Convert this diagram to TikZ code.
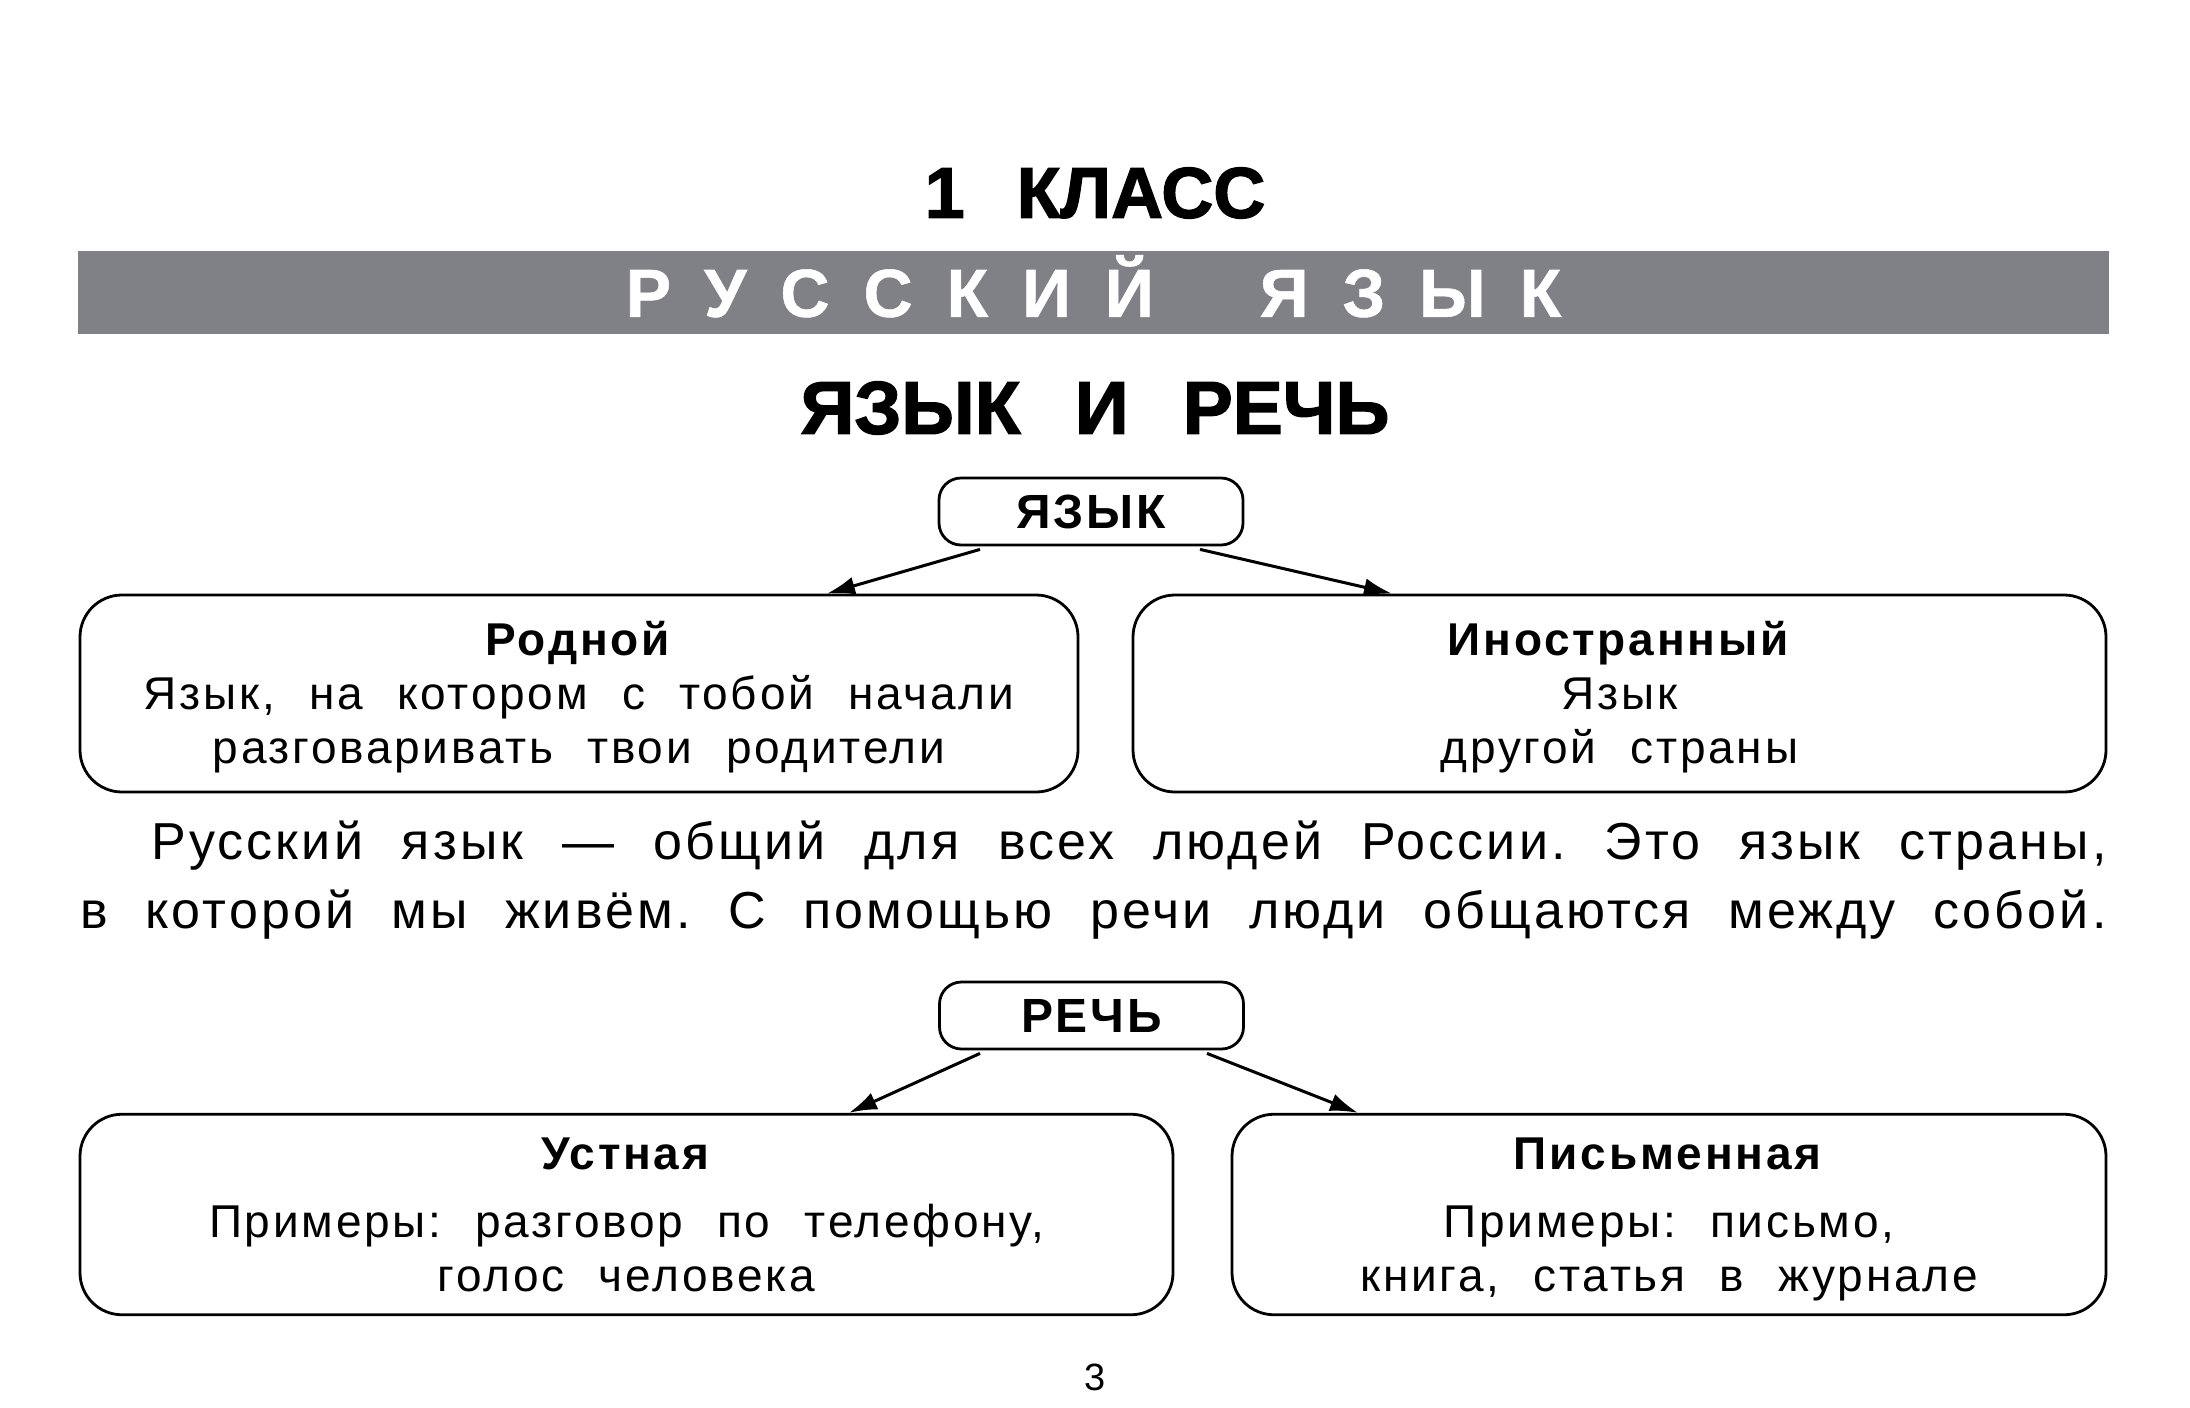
\documentclass[tikz,border=0pt]{standalone}
\usepackage{fontspec}
\setmainfont{Liberation Sans}[WordSpace=2.2, LetterSpace=6]
\newfontfamily\titlefont{Liberation Sans}[WordSpace=2.6, BoldFeatures={FakeBold=1.8}]
\newfontfamily\spacedfont{Liberation Sans}[WordSpace=2, LetterSpace=50, BoldFeatures={FakeBold=0.8}]
\usetikzlibrary{arrows.meta}
\definecolor{bannergray}{RGB}{128,129,134}
\frenchspacing
% extra room above the first line in the boxes
\newcommand{\topgap}{\rule{0pt}{24.5pt}}

\begin{document}
\begin{tikzpicture}[
    x=0.5pt, y=-0.5pt,
    % define styles
    root/.style={
        draw,
        line width=1.4pt,
        rounded corners=11pt,
        minimum width=152pt,
        minimum height=33.5pt,
        font=\fontsize{24}{29}\selectfont\bfseries
    },
    leaf/.style={
        draw,
        line width=1.4pt,
        rounded corners=21pt,
        minimum height=98.5pt,
        align=center,
        font=\fontsize{23}{27}\selectfont
    },
    arr/.style={
        -{Latex[length=14pt,width=9pt]},
        line width=1.5pt
    }
]
\useasboundingbox (0,0) rectangle (2190,1408);

% Headings
\node[font=\titlefont\fontsize{36}{40}\selectfont\bfseries] (klass) at (1095,193) {1 КЛАСС};
\node[fill=bannergray, minimum width=1015.5pt, minimum height=41.5pt, inner sep=0pt,
      text height=24.3pt, text depth=0pt,
      text=white, font=\spacedfont\fontsize{34}{40}\selectfont\bfseries] (banner) at (1093.5,292.5) {РУССКИЙ ЯЗЫК};
\node[font=\titlefont\fontsize{37.5}{44}\selectfont\bfseries] (topic) at (1095,408) {ЯЗЫК И РЕЧЬ};

% Language
\node[root] (yazyk) at (1091,511.5) {ЯЗЫК};
\node[leaf, minimum width=499pt] (rodnoy) at (579,693.5)
    {\topgap\textbf{Родной}\\ Язык, на котором с тобой начали\\ разговаривать твои родители\strut};
\node[leaf, minimum width=486.5pt] (inostr) at (1619.5,693.5)
    {\topgap\textbf{Иностранный}\\ Язык\\ другой страны\strut};

% Arrows from yazyk
\draw[arr] ([xshift=-55.5pt,yshift=-1.5pt]yazyk.south) -- ([xshift=124pt]rodnoy.north);
\draw[arr] ([xshift=54.5pt,yshift=-1.5pt]yazyk.south) -- ([xshift=-113.75pt]inostr.north);

% Text between the two diagrams
\node[anchor=west, inner sep=0pt, font=\fontsize{26}{31}\selectfont] (line1) at (151,846)
    {\makebox[977.5pt][s]{Русский язык — общий для всех людей России. Это язык страны,}};
\node[anchor=west, inner sep=0pt, font=\fontsize{26}{31}\selectfont] (line2) at (80,915)
    {\makebox[1013pt][s]{в которой мы живём. С помощью речи люди общаются между собой.}};

% Speech
\node[root] (rech) at (1091.5,1015.5) {РЕЧЬ};
\node[leaf, minimum width=546.5pt] (ustnaya) at (626.5,1214.5)
    {\topgap\textbf{Устная}\\[7pt] Примеры: разговор по телефону,\\ голос человека\strut};
\node[leaf, minimum width=437pt] (pismen) at (1669,1214.5)
    {\topgap\textbf{Письменная}\\[7pt] Примеры: письмо,\\ книга, статья в журнале\strut};

% Arrows from rech
\draw[arr] ([xshift=-55.75pt,yshift=-1.5pt]rech.south) -- ([xshift=111.25pt]ustnaya.north);
\draw[arr] ([xshift=57.75pt,yshift=-1.5pt]rech.south) -- ([xshift=-155.5pt]pismen.north);

% Page number
\node[font=\fontsize{19}{23}\selectfont] (page) at (1095,1377) {3};
\end{tikzpicture}
\end{document}
